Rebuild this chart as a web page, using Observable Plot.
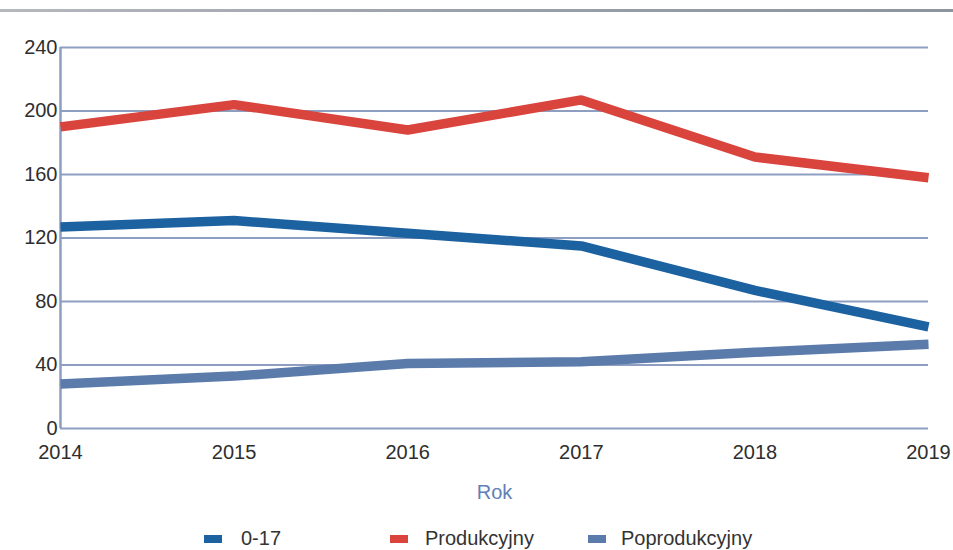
<!DOCTYPE html>
<html>
<head>
<meta charset="utf-8">
<script src="https://cdn.jsdelivr.net/npm/d3@7"></script>
<script src="https://cdn.jsdelivr.net/npm/@observablehq/plot@0.6"></script>
<style>
  html, body { margin: 0; padding: 0; background: #fff; }
  body { width: 953px; height: 550px; position: relative; overflow: hidden; font-family: "Liberation Sans", Arial, sans-serif; }
  #topline { position: absolute; left: 0; top: 9px; width: 953px; height: 3px;
    background: linear-gradient(to right, #b5b8bd, #9aa0a8 50%, #8d949c); }
  #chart { position: absolute; left: 0; top: 0; }
  .lg { position: absolute; top: 527px; font-size: 20px; color: #333; line-height: 22px; }
  .sw { position: absolute; top: 535px; width: 18px; height: 8px; }
</style>
</head>
<body>
<div id="chart"></div>
<div id="topline"></div>
<div id="legend"></div>
<script>
const years = [2014, 2015, 2016, 2017, 2018, 2019];
const seriesNames = ["0-17", "Produkcyjny", "Poprodukcyjny"];
const age017 = [127, 131, 123, 115, 87, 64];
const produkcyjny = [190, 204, 188, 207, 171, 158];
const poprodukcyjny = [28, 33, 41, 42, 48, 53];
const yTicks = [0, 40, 80, 120, 160, 200, 240];
const colors = ["#1d62a0", "#d9443d", "#5b7bab"];

const valuesBySeries = [age017, produkcyjny, poprodukcyjny];
const data = [];
seriesNames.forEach((s, i) => years.forEach((yr, j) => data.push({series: s, year: yr, value: valuesBySeries[i][j]})));

const grid = "#8d9ec0";
const chart = Plot.plot({
  width: 953,
  height: 510,
  marginLeft: 60,
  marginRight: 25,
  marginTop: 47,
  marginBottom: 82,
  style: {fontFamily: "Liberation Sans, Arial, sans-serif", fontSize: "20px", color: "#2e2e2e", background: "transparent"},
  x: {domain: [2014, 2019]},
  y: {domain: [0, 240]},
  color: {domain: seriesNames, range: colors},
  marks: [
    Plot.ruleY(yTicks, {stroke: grid, strokeWidth: 2}),
    Plot.ruleX([2014], {stroke: grid, strokeWidth: 2.5}),
    Plot.axisY({ticks: yTicks, tickSize: 0, tickPadding: 3, label: null, fontSize: 20, fill: "#2e2e2e"}),
    Plot.axisX({ticks: years, tickFormat: "d", tickSize: 0, tickPadding: 16, label: null, fontSize: 20, fill: "#2e2e2e"}),
    Plot.text(["Rok"], {frameAnchor: "bottom", dy: 70, fontSize: 20, fill: "#5f80b6", text: d => d}),
    Plot.line(data, {x: "year", y: "value", stroke: "series", strokeWidth: 9.5, strokeLinejoin: "miter", strokeLinecap: "butt"})
  ]
});
document.getElementById("chart").appendChild(chart);

const legendPos = [[204, 241], [390, 425], [588, 621]];
const lg = document.getElementById("legend");
seriesNames.forEach((s, i) => {
  const sw = document.createElement("div");
  sw.className = "sw";
  sw.style.left = legendPos[i][0] + "px";
  sw.style.background = colors[i];
  lg.appendChild(sw);
  const t = document.createElement("div");
  t.className = "lg";
  t.style.left = legendPos[i][1] + "px";
  t.textContent = s;
  lg.appendChild(t);
});
</script>
</body>
</html>
